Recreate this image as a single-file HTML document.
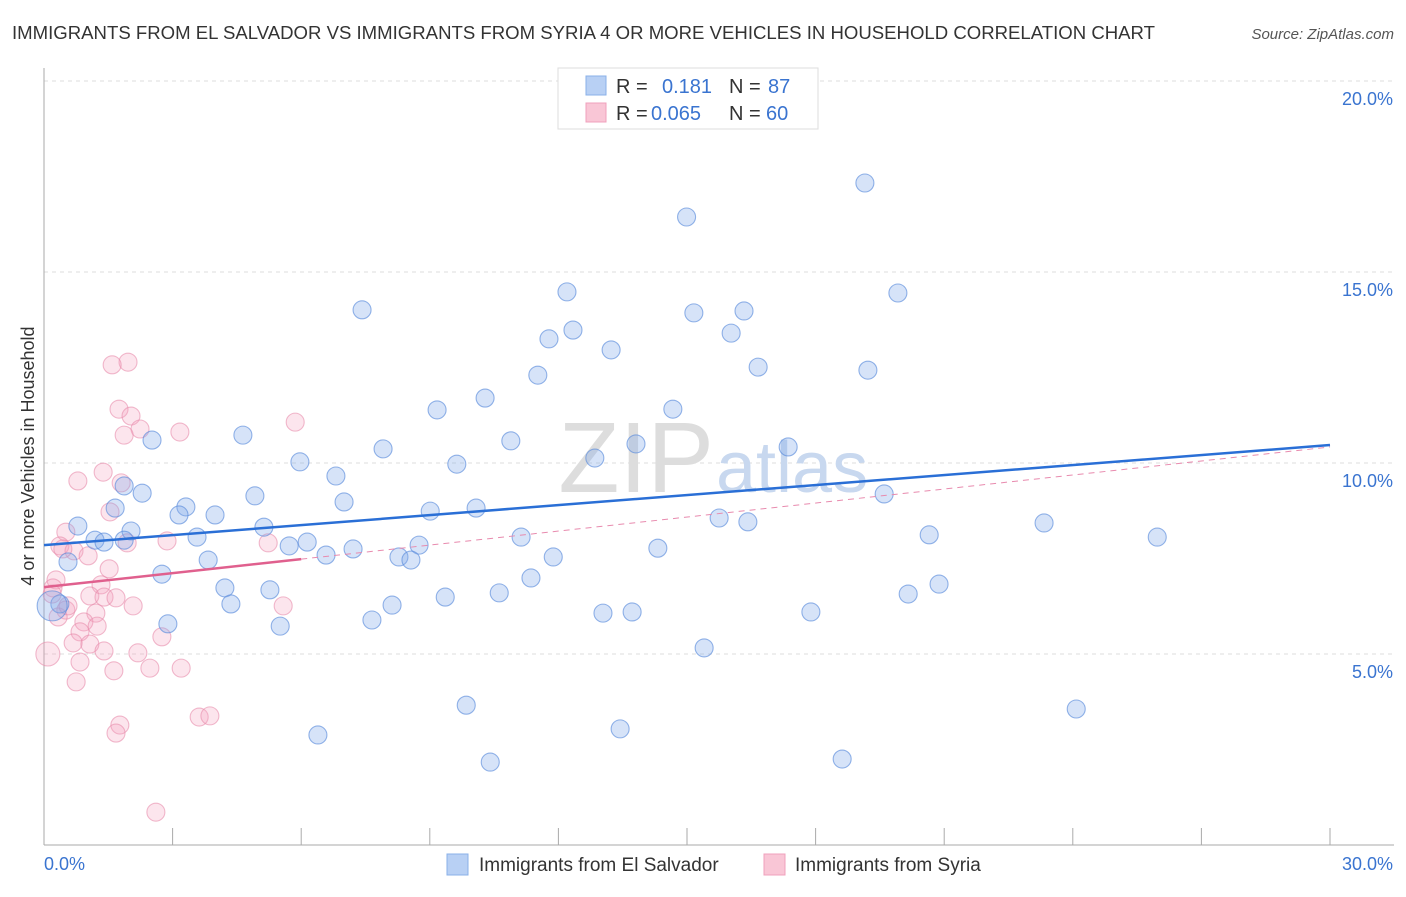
<!DOCTYPE html>
<html><head><meta charset="utf-8">
<style>
body{margin:0;background:#fff;font-family:"Liberation Sans",sans-serif;}
svg text{font-family:"Liberation Sans",sans-serif;}
</style></head>
<body>
<svg width="1406" height="892" xmlns="http://www.w3.org/2000/svg" id="chart">
<text x="12" y="39" font-size="18" fill="#333" textLength="1143" lengthAdjust="spacingAndGlyphs">IMMIGRANTS FROM EL SALVADOR VS IMMIGRANTS FROM SYRIA 4 OR MORE VEHICLES IN HOUSEHOLD CORRELATION CHART</text>
<text x="1394" y="39" font-size="15" fill="#555" font-style="italic" text-anchor="end">Source: ZipAtlas.com</text>
<text x="34" y="456" font-size="18" fill="#333" text-anchor="middle" transform="rotate(-90 34 456)">4 or more Vehicles in Household</text>
<g id="grid"></g>
<text x="714" y="492" font-size="100" fill="#ddd" text-anchor="end" font-family="Liberation Serif">ZIP</text>
<text x="716" y="492" font-size="72" fill="#c8d8ef">atlas</text>
<g id="pts"></g>
<g id="lines"></g>
<g>
<rect x="558" y="68" width="260" height="61" fill="#fff" stroke="#ddd"/>
<rect x="586" y="76" width="20" height="19" fill="#b8d0f4" stroke="#8ab0e8"/>
<rect x="586" y="103" width="20" height="19" fill="#f9c6d6" stroke="#f0a0bc"/>
<text x="616" y="93" font-size="20" fill="#333">R =</text>
<text x="662" y="93" font-size="20" fill="#3a74d0">0.181</text>
<text x="729" y="93" font-size="20" fill="#333">N =</text>
<text x="768" y="93" font-size="20" fill="#3a74d0">87</text>
<text x="616" y="120" font-size="20" fill="#333">R =</text>
<text x="651" y="120" font-size="20" fill="#3a74d0">0.065</text>
<text x="729" y="120" font-size="20" fill="#333">N =</text>
<text x="766" y="120" font-size="20" fill="#3a74d0">60</text>
</g>
<g>
<rect x="447" y="854" width="21" height="21" fill="#b8d0f4" stroke="#8ab0e8"/>
<text x="479" y="871" font-size="19" fill="#333">Immigrants from El Salvador</text>
<rect x="764" y="854" width="21" height="21" fill="#f9c6d6" stroke="#f0a0bc"/>
<text x="795" y="871" font-size="19" fill="#333">Immigrants from Syria</text>
</g>
</svg>
<script>
const blueX=[19.15,14.99,12.20,19.92,7.42,15.16,16.33,12.34,11.78,16.03,13.23,19.22,16.66,11.52,9.17,10.29,14.67,4.64,2.52,10.89,13.81,17.36,7.91,5.97,12.85,9.63,6.81,1.87,2.29,4.92,19.60,7.00,3.31,1.66,3.99,3.15,9.01,10.08,15.75,16.42,23.33,0.79,2.03,5.13,25.97,20.65,11.13,3.57,1.19,1.40,1.87,5.72,6.14,14.32,7.21,6.58,8.75,11.88,8.28,8.56,0.56,3.83,2.75,11.36,20.88,4.22,5.27,10.62,9.36,8.12,20.16,4.36,13.04,13.72,17.89,7.65,2.89,5.51,0.37,15.40,9.85,24.08,13.44,6.39,10.41,18.62,0.19];
const blueY=[17.33,16.44,14.48,14.45,14.01,13.93,13.98,13.48,13.25,13.40,12.96,12.43,12.51,12.30,11.39,11.70,11.41,10.73,10.60,10.58,10.50,10.42,10.37,10.03,10.13,9.97,9.66,9.40,9.21,9.14,9.19,8.98,8.85,8.82,8.64,8.64,8.74,8.82,8.56,8.46,8.43,8.35,8.22,8.32,8.06,8.12,8.06,8.06,7.98,7.93,7.98,7.83,7.93,7.77,7.75,7.59,7.85,7.54,7.54,7.46,7.41,7.46,7.09,6.99,6.83,6.73,6.68,6.60,6.49,6.28,6.57,6.31,6.07,6.10,6.10,5.89,5.79,5.73,6.31,5.16,3.66,3.56,3.04,2.88,2.17,2.25,6.26];
const blueSize=blueX.map((v,i)=>i===blueX.length-1?15:9);
const pinkX=[1.96,1.59,1.75,2.03,2.24,1.87,3.17,5.86,1.38,0.79,1.80,1.54,0.51,0.37,0.70,0.44,1.03,1.94,2.87,5.23,1.52,0.28,0.21,1.33,1.07,1.40,1.68,2.08,5.58,0.51,1.21,0.33,0.93,1.24,0.84,0.68,1.07,2.75,1.40,2.19,0.84,2.47,3.20,1.63,0.75,1.77,1.68,3.62,3.87,2.61,0.19,0.56,0.09];
const pinkY=[12.64,12.57,11.41,11.23,10.89,10.73,10.81,11.07,9.76,9.53,9.48,8.72,8.19,7.83,7.70,7.75,7.57,7.91,7.96,7.91,7.23,6.94,6.73,6.81,6.52,6.49,6.47,6.26,6.26,6.15,6.07,5.97,5.84,5.73,5.58,5.29,5.26,5.45,5.08,5.03,4.79,4.63,4.63,4.56,4.27,3.14,2.93,3.35,3.38,0.86,6.57,6.26,5.0];
const pinkSize=pinkX.map((v,i)=>i===pinkX.length-1?12:9);
const blueTrend=[7.85,10.47];
const pinkTrend=[6.75,10.42];
const pinkSolidEnd=6;
const yTicks=[5,10,15,20];
const yTickLabels=["5.0%","10.0%","15.0%","20.0%"];
const xTicks=[0,3,6,9,12,15,18,21,24,27,30];
const xEndLabels=["0.0%","30.0%"];

const NS="http://www.w3.org/2000/svg";
const X0=44,X1=1330,Y0=845,YPER=191/5;
function sx(v){return X0+(v/30)*(X1-X0);}
function sy(v){return Y0-v*YPER;}
function mk(tag,attrs,parent){const e=document.createElementNS(NS,tag);for(const k in attrs)e.setAttribute(k,attrs[k]);parent.appendChild(e);return e;}
const grid=document.getElementById('grid');
yTicks.forEach((t,i)=>{
  const l=mk('line',{x1:X0,x2:1394,y1:sy(t),y2:sy(t),stroke:'#ddd','stroke-dasharray':'4,4'},grid);
  
  
  const tx=mk('text',{x:1393,y:sy(t)+24,'font-size':18,fill:'#3a74d0','text-anchor':'end'},grid);
  tx.textContent=yTickLabels[i];
  
  
});
const ya=mk('line',{x1:X0,x2:X0,y1:68,y2:Y0,stroke:'#aaa'},grid);


const xa=mk('line',{x1:X0,x2:1394,y1:Y0,y2:Y0,stroke:'#aaa'},grid);


xTicks.forEach(t=>{
  const l=mk('line',{x1:sx(t),x2:sx(t),y1:828,y2:Y0,stroke:'#aaa'},grid);
  
  
});
const xl0=mk('text',{x:44,y:870,'font-size':18,fill:'#3a74d0'},grid);
xl0.textContent=xEndLabels[0];


const xl1=mk('text',{x:1393,y:870,'font-size':18,fill:'#3a74d0','text-anchor':'end'},grid);
xl1.textContent=xEndLabels[1];


const pts=document.getElementById('pts');
pinkX.forEach((x,i)=>{
  const c=mk('circle',{cx:sx(x),cy:sy(pinkY[i]),r:pinkSize[i],fill:'rgba(244,160,190,0.28)',stroke:'rgba(232,140,172,0.6)','stroke-width':1.1},pts);
  
  
});
blueX.forEach((x,i)=>{
  const c=mk('circle',{cx:sx(x),cy:sy(blueY[i]),r:blueSize[i],fill:'rgba(130,170,235,0.33)',stroke:'rgba(90,140,220,0.65)','stroke-width':1.1},pts);
  
  
});
const lines=document.getElementById('lines');
const pinkAt=v=>pinkTrend[0]+(pinkTrend[1]-pinkTrend[0])*v/30;
const pd=mk('line',{x1:sx(pinkSolidEnd),y1:sy(pinkAt(pinkSolidEnd)),x2:sx(30),y2:sy(pinkTrend[1]),stroke:'#e88aae','stroke-width':1,'stroke-dasharray':'6,5'},lines);


const ps=mk('line',{x1:sx(0),y1:sy(pinkTrend[0]),x2:sx(pinkSolidEnd),y2:sy(pinkAt(pinkSolidEnd)),stroke:'#e0608e','stroke-width':2.5},lines);


const bl=mk('line',{x1:sx(0),y1:sy(blueTrend[0]),x2:sx(30),y2:sy(blueTrend[1]),stroke:'#2a6fd6','stroke-width':2.5},lines);


</script>
</body></html>
